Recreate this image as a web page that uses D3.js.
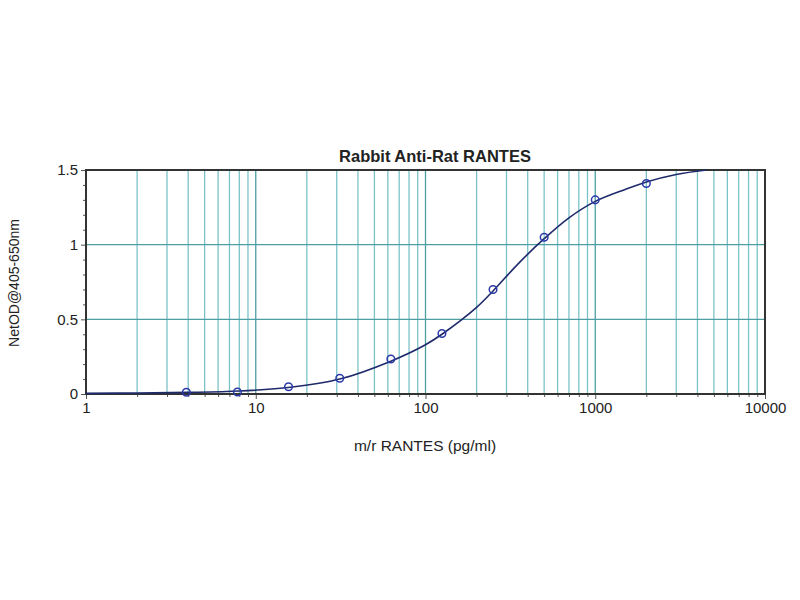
<!DOCTYPE html>
<html><head><meta charset="utf-8">
<script src="https://cdn.jsdelivr.net/npm/d3@7"></script>
<style>body{margin:0;background:#fff;} svg{display:block;}</style>
</head><body>
<svg id="c" width="800" height="600"></svg>
<script>
const title = "Rabbit Anti-Rat RANTES";
const xLabel = "m/r RANTES (pg/ml)";
const yLabel = "NetOD@405-650nm";
const conc = [3.9, 7.8, 15.6, 31.25, 62.5, 125, 250, 500, 1000, 2000];
const od = [0.012, 0.013, 0.049, 0.105, 0.234, 0.405, 0.70, 1.05, 1.30, 1.41];
const curveX = [1, 2, 4, 8, 16, 31.25, 62.5, 100, 125, 200, 250, 350, 500, 700, 1000, 1500, 2000, 3000, 4500];
const curveY = [0.004, 0.007, 0.011, 0.02, 0.045, 0.1, 0.22, 0.33, 0.40, 0.58, 0.69, 0.87, 1.04, 1.18, 1.29, 1.37, 1.42, 1.47, 1.5];
const xTicks = [1, 10, 100, 1000, 10000];
const yTicks = [0, 0.5, 1, 1.5];

const svg = d3.select("#c");
const FONT = "Arial, 'Liberation Sans', sans-serif";
const L = 86, R = 765, T = 170, B = 394;
const x = d3.scaleLog().domain([1, 10000]).range([L, R]);
const y = d3.scaleLinear().domain([0, 1.5]).range([B, T]);

const minor = [];
for (let d = 1; d < 10000; d *= 10) for (let k = 1; k <= 9; k++) minor.push(d * k);
minor.push(10000);
svg.append("g").selectAll("line").data(minor.filter(v => v > 1 && v < 10000)).join("line")
  .attr("x1", d => x(d)).attr("x2", d => x(d)).attr("y1", T).attr("y2", B)
  .attr("stroke", d => xTicks.includes(d) ? "#4d9ea3" : "#7cc3c9").attr("stroke-width", 1.3);
svg.append("g").selectAll("line").data(yTicks.filter(v => v > 0 && v < 1.5)).join("line")
  .attr("x1", L).attr("x2", R).attr("y1", d => y(d)).attr("y2", d => y(d))
  .attr("stroke", "#4d9ea3").attr("stroke-width", 1.3);

svg.append("g").attr("transform", `translate(0,${B})`)
  .call(d3.axisBottom(x).tickValues(xTicks).tickFormat(d3.format("d")).tickSize(5).tickPadding(3));
svg.append("g").attr("transform", `translate(0,${B})`)
  .call(d3.axisBottom(x).tickValues(minor.filter(v => !xTicks.includes(v))).tickFormat("").tickSize(3));
svg.append("g").attr("transform", `translate(${L},0)`)
  .call(d3.axisLeft(y).tickValues(yTicks).tickFormat(d => String(d)).tickSize(5).tickPadding(3));
svg.append("g").attr("transform", `translate(${L},0)`)
  .call(d3.axisLeft(y).tickValues(d3.range(0, 1.51, 0.1).filter(v => Math.abs(v*2 - Math.round(v*2)) > 1e-6)).tickFormat("").tickSize(3));
svg.selectAll(".tick line").attr("stroke", "#555");
svg.selectAll(".domain").remove();
svg.selectAll(".tick text").attr("font-family", FONT).attr("font-size", 15).attr("fill", "#222");

svg.append("rect").attr("x", L).attr("y", T).attr("width", R - L).attr("height", B - T)
  .attr("fill", "none").attr("stroke", "#333").attr("stroke-width", 2);

const line = d3.line().x((d, i) => x(curveX[i])).y(d => y(d)).curve(d3.curveCatmullRom.alpha(0.5));
svg.append("path").attr("d", line(curveY)).attr("fill", "none").attr("stroke", "#1f2a6b").attr("stroke-width", 1.6);

svg.append("g").selectAll("circle").data(conc).join("circle")
  .attr("cx", d => x(d)).attr("cy", (d, i) => y(od[i])).attr("r", 3.8)
  .attr("fill", "none").attr("stroke", "#2b3aa8").attr("stroke-width", 1.5);

svg.append("text").attr("x", 435).attr("y", 162).attr("text-anchor", "middle")
  .attr("font-family", FONT).attr("font-size", 16.5).attr("font-weight", "bold").attr("fill", "#222").text(title);
svg.append("text").attr("x", 425).attr("y", 451).attr("text-anchor", "middle")
  .attr("font-family", FONT).attr("font-size", 15.5).attr("fill", "#222").text(xLabel);
svg.append("text").attr("transform", "translate(19,283) rotate(-90)").attr("text-anchor", "middle")
  .attr("font-family", FONT).attr("font-size", 14).attr("fill", "#222").text(yLabel);
</script>
</body></html>
